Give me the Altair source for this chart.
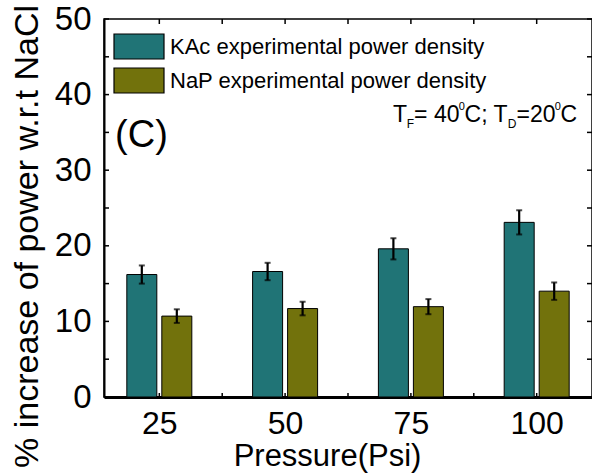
import altair as alt
import pandas as pd

# ---- data ----
pressure = [25, 50, 75, 100]
kac_values = [16.2, 16.6, 19.6, 23.1]
kac_errors = [1.2, 1.15, 1.4, 1.6]
nap_values = [10.7, 11.7, 11.95, 14.0]
nap_errors = [0.9, 0.9, 1.0, 1.15]
series_names = ["KAc experimental power density", "NaP experimental power density"]
series_colors = ["#207476", "#72720c"]
x_label_values = [25, 50, 75, 100]
y_label_values = [0, 10, 20, 30, 40, 50]
x_minor_ticks = [25, 37.5, 50, 62.5, 75, 87.5, 100]
y_minor_ticks = [0, 5, 10, 15, 20, 25, 30, 35, 40, 45, 50]

rows = []
for name, vals, errs in [(series_names[0], kac_values, kac_errors),
                         (series_names[1], nap_values, nap_errors)]:
    for p, v, e in zip(pressure, vals, errs):
        rows.append({"pressure": p, "value": v, "err": e, "series": name})
df = pd.DataFrame(rows)

FONT = "Liberation Sans"
W, H = 488, 378
xs = alt.Scale(domain=[15, 110], nice=False, zero=False)
ys = alt.Scale(domain=[0, 50], nice=False)

x_axis = alt.Axis(values=x_label_values, title="Pressure(Psi)", grid=False,
                  ticks=False, tickSize=0, labelFontSize=32, labelPadding=36,
                  labelBaseline="alphabetic", labelColor="black",
                  domainColor="black", domainWidth=3,
                  titleFontSize=31, titleFontWeight="normal", titleColor="black",
                  titleX=223, titleY=68, titleBaseline="alphabetic", titleAlign="center")
y_axis = alt.Axis(values=y_label_values, title="% increase of power w.r.t NaCl", grid=False,
                  ticks=False, tickSize=0, labelFontSize=33, labelPadding=13,
                  labelColor="black", domainColor="black", domainWidth=2,
                  titleFontSize=34, titleFontWeight="normal", titleColor="black",
                  titleAngle=270, titleX=-67, titleY=217, titleBaseline="alphabetic",
                  titleAlign="center")

color = alt.Color("series:N",
                  scale=alt.Scale(domain=series_names, range=series_colors),
                  legend=alt.Legend(orient="none", legendX=9, legendY=14, title=None,
                                    symbolType="M-1,-1H3V1H-1Z", symbolSize=625,
                                    symbolStrokeColor="black", symbolStrokeWidth=1.2,
                                    symbolOpacity=1, labelFontSize=22, labelFont=FONT,
                                    labelColor="black", labelOffset=30, rowPadding=3,
                                    padding=0, labelLimit=500))

layers = []
for name, off in [(series_names[0], -17.5), (series_names[1], 17.5)]:
    base = alt.Chart(df).transform_filter(alt.datum.series == name)
    layers.append(base.mark_bar(size=30, xOffset=off, stroke="black", strokeWidth=1).encode(
        x=alt.X("pressure:Q", scale=xs, axis=x_axis),
        y=alt.Y("value:Q", scale=ys, axis=y_axis),
        color=color))
    eb = base.transform_calculate(lo="datum.value - datum.err", hi="datum.value + datum.err")
    layers.append(eb.mark_rule(xOffset=off, strokeWidth=2.2, color="black").encode(
        x=alt.X("pressure:Q", scale=xs, axis=x_axis),
        y=alt.Y("lo:Q", scale=ys, axis=y_axis), y2="hi:Q"))
    for f in ["lo", "hi"]:
        layers.append(eb.mark_tick(xOffset=off, orient="horizontal", size=6, thickness=2,
                                   color="black").encode(
            x=alt.X("pressure:Q", scale=xs, axis=x_axis),
            y=alt.Y(f + ":Q", scale=ys, axis=y_axis)))

# inward ticks on all four sides
ydf = pd.DataFrame({"v": y_minor_ticks})
xdf = pd.DataFrame({"v": x_minor_ticks})
layers.append(alt.Chart(ydf).mark_rule(color="black", strokeWidth=1.5).encode(
    y=alt.Y("v:Q", scale=ys, axis=y_axis), x=alt.value(0), x2=alt.value(5)))
layers.append(alt.Chart(ydf).mark_rule(color="black", strokeWidth=1.5).encode(
    y=alt.Y("v:Q", scale=ys, axis=y_axis), x=alt.value(W - 5), x2=alt.value(W)))
layers.append(alt.Chart(xdf).mark_rule(color="black", strokeWidth=1.5).encode(
    x=alt.X("v:Q", scale=xs, axis=x_axis), y=alt.value(0), y2=alt.value(5)))
layers.append(alt.Chart(xdf).mark_rule(color="black", strokeWidth=1.5).encode(
    x=alt.X("v:Q", scale=xs, axis=x_axis), y=alt.value(H - 4), y2=alt.value(H)))

# annotations (data coordinates)
def note(txt, x, y, size):
    return alt.Chart(pd.DataFrame({"t": [txt]})).mark_text(
        align="left", baseline="alphabetic", fontSize=size, font=FONT, color="black").encode(
        x=alt.datum(x), y=alt.datum(y), text="t:N")

layers.append(note("(C)", 16.2, 33.1, 38))
for txt, x, y, size in [("T", 71.45, 36.38, 23), ("F", 74.18, 35.6, 12),
                        ("= 40", 75.63, 36.38, 23), ("0", 84.5, 37.96, 11),
                        ("C; T", 85.67, 36.38, 23), ("D", 94.23, 35.6, 12),
                        ("=20", 95.98, 36.38, 23), ("0", 103.57, 37.96, 11),
                        ("C", 104.74, 36.38, 23)]:
    layers.append(note(txt, x, y, size))

chart = alt.layer(*layers).properties(
    width=W, height=H,
    autosize=alt.AutoSizeParams(type="none"),
    padding={"left": 104, "top": 19, "right": 0, "bottom": 76},
    background="white",
).configure(font=FONT).configure_view(stroke="black", strokeWidth=1.5)

chart.save("out.html", embed_options={"renderer": "svg", "actions": False})
